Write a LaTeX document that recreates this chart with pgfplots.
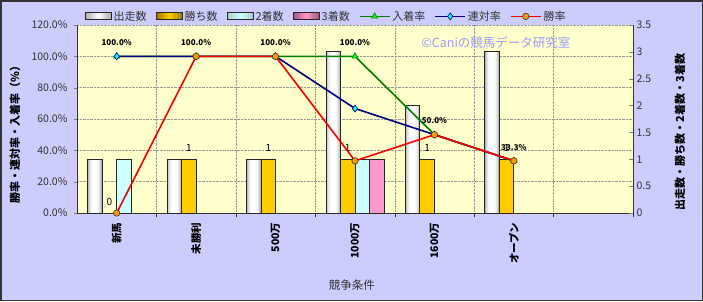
\documentclass[border=0pt]{standalone}
\usepackage{pgfplots}
\usepackage{pgfplotstable}
\pgfplotsset{compat=1.18}
\usepackage{fontspec}
\setmainfont{Noto Sans CJK JP}
\definecolor{bgc}{HTML}{CCCCFF}
\definecolor{plotbg}{HTML}{FFFFCC}
\definecolor{winc}{HTML}{FFCC00}
\definecolor{secc}{HTML}{CCFFFF}
\definecolor{thrc}{HTML}{FF99CC}
\definecolor{wmark}{HTML}{9A9AF8}
\definecolor{navyc}{HTML}{000080}
\definecolor{greenc}{HTML}{008000}
\definecolor{limec}{HTML}{00FF00}
\definecolor{orangec}{HTML}{FF9900}
\definecolor{cyanc}{HTML}{00FFFF}
% counts
\pgfplotstableread{
x runs
0 1
1 1
2 1
3 3
4 2
5 3
}\runs
\pgfplotstableread{
x wins
0 0
1 1
2 1
3 1
4 1
5 1
}\wins
\pgfplotstableread{
x second
0 1
3 1
}\second
\pgfplotstableread{
x third
3 1
}\third
% rates (%)
\pgfplotstableread{
x place quin win
0 100 100 0
1 100 100 100
2 100 100 100
3 100 66.7 33.3
4 50 50 50
5 33.3 33.3 33.3
}\rates
\pgfplotsset{
  base/.style={scale only axis, width=556pt, height=188pt, at={(77pt,88pt)},
    anchor=south west, xmin=-0.5, xmax=6.5,
    /pgf/number format/assume math mode=true},
  barleg/.style={legend image code/.code={\draw[##1] (0pt,-3.5pt) rectangle (26pt,3.5pt);}},
  lineleg/.style={legend image code/.code={\draw[mark repeat=2,mark phase=2,##1] plot coordinates {(0pt,0pt) (15pt,0pt) (30pt,0pt)};}},
  runlayer/.style={ybar, bar shift=-21.75pt, draw=none, bar width=#1},
}
\begin{document}
\begin{tikzpicture}[x=1pt,y=1pt]
\useasboundingbox (0,0) rectangle (703,301);
\fill[bgc] (0,0) rectangle (703,301);
\draw[black!80, line width=1.5pt] (0.75,0.75) rectangle (702.25,300.25);
% axis 1: percent axis with grid
\begin{axis}[base, ymin=0, ymax=120,
  axis background/.style={fill=plotbg},
  axis x line*=bottom, axis y line*=left, axis line style={-, black!80, line width=0.8pt},
  ytick={0,20,...,120},
  yticklabel={\pgfmathprintnumber[fixed,fixed zerofill,precision=1]{\tick}\%},
  yticklabel style={font=\fontsize{10.5}{10.5}\selectfont, text=black!80, xshift=-3pt},
  ymajorgrids, grid style={densely dotted, gray!80},
  xtick={0,...,5},
  xticklabels={新馬,未勝利,500万,1000万,1600万,オープン},
  x tick label style={rotate=90, anchor=east, font=\bfseries\fontsize{10.5}{10.5}\selectfont, yshift=0pt, xshift=-3pt},
  major x tick style={draw=none},
  minor xtick={0.5,1.5,...,6.5}, xminorgrids, minor grid style={densely dotted, gray!80},
  minor x tick style={black!80},
  tick align=outside, major tick length=3pt, minor tick length=4pt,
  ylabel={勝率・連対率・入着率（\%）},
  ylabel style={at={(axis description cs:-0.1115,0.43)}, anchor=center, font=\bfseries\fontsize{11}{11}\selectfont},
  xlabel={競争条件},
  xlabel style={at={(axis description cs:0.4946,-0.383)}, anchor=center, font=\fontsize{11.5}{11.5}\selectfont, text=black!80},
]
\addplot[draw=none] coordinates {(0,0)};
\end{axis}
% axis 2: counts (bars)
\begin{axis}[base, ymin=0, ymax=3.5,
  axis y line*=right, axis x line=none, axis line style={-, black!80, line width=0.8pt},
  ytick={0,0.5,...,3.5},
  yticklabel style={font=\fontsize{10.5}{10.5}\selectfont, text=black!80},
  tick align=inside, major tick length=4pt,
  ylabel={出走数・勝ち数・2着数・3着数},
  ylabel style={at={(axis description cs:1.0845,0.43)}, anchor=center, font=\bfseries\fontsize{11}{11}\selectfont},
]
% 出走数: cylinder-like stepped shading, then outline
\addplot[runlayer=14.5pt, fill=gray!62] table[x=x,y=runs]{\runs};
\addplot[runlayer=12.5pt, fill=gray!38] table[x=x,y=runs]{\runs};
\addplot[runlayer=10.5pt, fill=gray!20] table[x=x,y=runs]{\runs};
\addplot[runlayer=8pt, fill=gray!7] table[x=x,y=runs]{\runs};
\addplot[runlayer=5pt, fill=white] table[x=x,y=runs]{\runs};
\addplot[ybar, bar width=14.5pt, bar shift=-21.75pt, draw=black!85, line width=1pt, fill=none]
  table[x=x,y=runs]{\runs};
\addplot[ybar, bar width=14.5pt, bar shift=-7.25pt, draw=black!85, line width=1pt, fill=winc,
  nodes near coords, nodes near coords style={font=\fontsize{10}{10}\selectfont, text=black, yshift=4pt, xshift=-7.25pt}]
  table[x=x,y=wins]{\wins};
\addplot[ybar, bar width=14.5pt, bar shift=7.25pt, draw=black!85, line width=1pt, fill=secc]
  table[x=x,y=second]{\second};
\addplot[ybar, bar width=14.5pt, bar shift=21.75pt, draw=black!85, line width=1pt, fill=thrc]
  table[x=x,y=third]{\third};
\end{axis}
% axis 3: rates (lines)
\begin{axis}[base, ymin=0, ymax=120, hide axis,
  legend columns=7,
  legend style={draw=none, fill=none, at={(axis description cs:0.448,1.0)}, anchor=south,
    font=\fontsize{11}{11}\selectfont, text=black!80, inner sep=1pt,
    /tikz/every even column/.append style={column sep=7pt}},
]
\addlegendimage{barleg, draw=black!85, line width=1pt, left color=gray!65, right color=gray!65, middle color=white}
\addlegendentry{出走数}
\addlegendimage{barleg, draw=black!85, line width=1pt, left color=winc!60!black, right color=winc!60!black, middle color=winc}
\addlegendentry{勝ち数}
\addlegendimage{barleg, draw=black!85, line width=1pt, left color=secc!60!gray, right color=secc!60!gray, middle color=secc}
\addlegendentry{2着数}
\addlegendimage{barleg, draw=black!85, line width=1pt, left color=thrc!60!black, right color=thrc!60!black, middle color=thrc}
\addlegendentry{3着数}
\addplot[lineleg, greenc, line width=1.6pt, mark=triangle*, mark size=3.5pt,
  mark options={fill=limec, draw=greenc, line width=0.6pt},
  nodes near coords={\pgfmathprintnumber[fixed,fixed zerofill,precision=1]{\pgfplotspointmeta}\%},
  nodes near coords style={font=\bfseries\fontsize{8}{8}\selectfont, text=black, yshift=7pt}]
  table[x=x,y=place]{\rates};
\addlegendentry{入着率}
\addplot[lineleg, navyc, line width=1.6pt, mark=diamond*, mark size=3.5pt,
  mark options={fill=cyanc, draw=navyc, line width=0.6pt}]
  table[x=x,y=quin]{\rates};
\addlegendentry{連対率}
\addplot[lineleg, red, line width=1.6pt, mark=*, mark size=3.2pt,
  mark options={fill=orangec, draw=black!80, line width=0.6pt}]
  table[x=x,y=win]{\rates};
\addlegendentry{勝率}
\end{axis}
\node[text=wmark, font=\fontsize{12.5}{12.5}\selectfont] at (496,258) {©Caniの競馬データ研究室};
\end{tikzpicture}
\end{document}
